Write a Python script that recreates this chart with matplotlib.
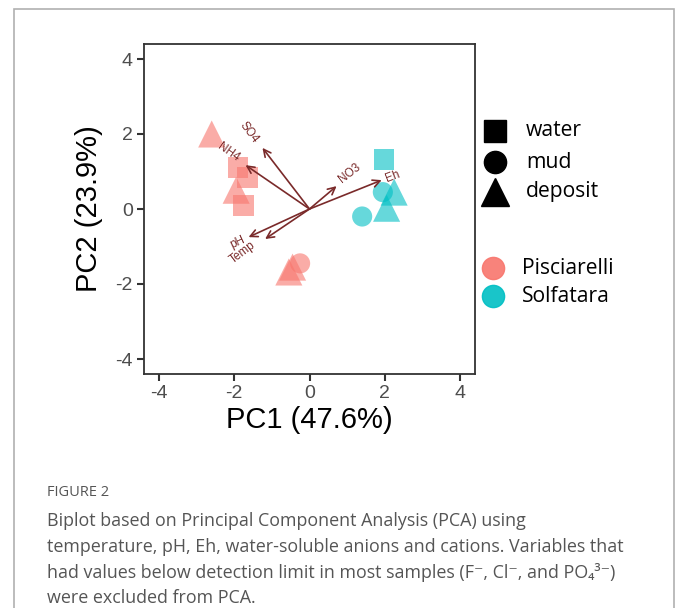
import matplotlib
matplotlib.use("Agg")
import matplotlib.pyplot as plt
from matplotlib.lines import Line2D
from matplotlib.patches import Rectangle

# ---------------- data ----------------
sites = ["Pisciarelli", "Solfatara"]
site_colors = ["#F8766D", "#00BFC4"]
types = ["water", "mud", "deposit"]
type_markers = ["s", "o", "^"]
type_sizes = [225, 210, 380]

# sample scores (PC1, PC2)
pis_water_x = [-1.90, -1.65, -1.75]
pis_water_y = [1.10, 0.85, 0.10]
pis_mud_x = [-0.25]
pis_mud_y = [-1.45]
pis_dep_x = [-2.60, -1.95, -0.45, -0.55]
pis_dep_y = [2.00, 0.50, -1.55, -1.68]

sol_water_x = [1.98]
sol_water_y = [1.33]
sol_mud_x = [1.95, 1.40]
sol_mud_y = [0.45, -0.20]
sol_dep_x = [2.25, 2.05]
sol_dep_y = [0.45, 0.02]

# variable loadings (arrow tips) and labels
var_names = ["SO4", "NH4", "NO3", "Eh", "pH", "Temp"]
var_x = [-1.25, -1.70, 0.72, 1.92, -1.62, -1.18]
var_y = [1.63, 1.17, 0.61, 0.77, -0.75, -0.80]
lab_x = [-1.60, -2.15, 1.07, 2.22, -1.90, -1.78]
lab_y = [2.05, 1.50, 0.96, 0.86, -0.90, -1.15]
lab_rot = [-53, -35, 38, 21, 25, 37]

xticks = [-4, -2, 0, 2, 4]
yticks = [-4, -2, 0, 2, 4]
xlabel = "PC1 (47.6%)"
ylabel = "PC2 (23.9%)"

caption_title = "FIGURE 2"
caption_lines = [
    "Biplot based on Principal Component Analysis (PCA) using",
    "temperature, pH, Eh, water-soluble anions and cations. Variables that",
    "had values below detection limit in most samples (F\u207b, Cl\u207b, and PO\u2084\u00b3\u207b)",
    "were excluded from PCA.",
]

# ---------------- figure ----------------
W, H = 679, 608
fig = plt.figure(figsize=(W / 100, H / 100), dpi=100)
fig.patch.set_facecolor("white")

def fx(px):
    return px / W

def fy(py):
    return 1 - py / H

# outer frame
fig.add_artist(Rectangle((fx(14), fy(700)), fx(674) - fx(14), fy(9) - fy(700),
                         transform=fig.transFigure, fill=False,
                         edgecolor="#b0b0b0", lw=1.2))

ax = fig.add_axes([fx(144), fy(374), fx(475) - fx(144), fy(44) - fy(374)])
ax.set_xlim(-4.4, 4.4)
ax.set_ylim(-4.4, 4.4)

groups = [
    (0, 0, pis_water_x, pis_water_y), (0, 1, pis_mud_x, pis_mud_y), (0, 2, pis_dep_x, pis_dep_y),
    (1, 0, sol_water_x, sol_water_y), (1, 1, sol_mud_x, sol_mud_y), (1, 2, sol_dep_x, sol_dep_y),
]
for si, ti, xs, ys in groups:
    ax.scatter(xs, ys, marker=type_markers[ti], s=type_sizes[ti],
               color=site_colors[si], alpha=0.6, edgecolors="none", zorder=2)

arrow_col = "#7a2a2a"
for name, vx, vy, lx, ly, r in zip(var_names, var_x, var_y, lab_x, lab_y, lab_rot):
    ax.annotate("", xy=(vx, vy), xytext=(0, 0),
                arrowprops=dict(arrowstyle="->", color=arrow_col, lw=1.2,
                                mutation_scale=13, shrinkA=0, shrinkB=0),
                zorder=3)
    ax.text(lx, ly, name, rotation=r, ha="center", va="center", color=arrow_col,
            fontsize=8.5, family="Liberation Sans", zorder=4,
            rotation_mode="anchor")

ax.set_xticks(xticks)
ax.set_yticks(yticks)
ax.set_xticklabels([str(t) for t in xticks])
ax.set_yticklabels([str(t) for t in yticks])
ax.tick_params(axis="both", direction="out", length=5, width=1.5, color="#333333",
               labelcolor="#4d4d4d", labelsize=14, pad=3)
for lab in ax.get_xticklabels() + ax.get_yticklabels():
    lab.set_family("Liberation Sans")
for sp in ax.spines.values():
    sp.set_color("#333333")
    sp.set_linewidth(1.3)
ax.set_xlabel(xlabel, fontsize=21, family="Liberation Sans", color="black", labelpad=3)
ax.set_ylabel(ylabel, fontsize=21, family="Liberation Sans", color="black", labelpad=9)

# ---------------- legends (figure coords) ----------------
leg_font = ["Open Sans", "DejaVu Sans"]
shape_y = [131, 162, 192]
shape_ms = [16, 16, 20]
for t, m, y, ms in zip(types, type_markers, shape_y, shape_ms):
    fig.add_artist(Line2D([fx(495)], [fy(y)], marker=m, markersize=ms, color="black",
                          linestyle="none", transform=fig.transFigure))
    fig.text(fx(526), fy(y), t, fontsize=15.2, family=leg_font, va="center",
             ha="left", color="black")

site_y = [268, 296]
for s, c, y in zip(sites, site_colors, site_y):
    fig.add_artist(Line2D([fx(493)], [fy(y)], marker="o", markersize=16, color=c,
                          alpha=0.9, linestyle="none", transform=fig.transFigure))
    fig.text(fx(522), fy(y), s, fontsize=15.2, family=leg_font, va="center",
             ha="left", color="black")

# ---------------- caption ----------------
cap_col = "#555555"
fig.text(fx(47), fy(493), caption_title, fontsize=10.5, family=leg_font,
         color=cap_col, va="center", ha="left")
for i, line in enumerate(caption_lines):
    fig.text(fx(47), fy(521 + 25.8 * i), line, fontsize=12.9, family=leg_font,
             color=cap_col, va="center", ha="left")

fig.savefig("out.png", dpi=100)
